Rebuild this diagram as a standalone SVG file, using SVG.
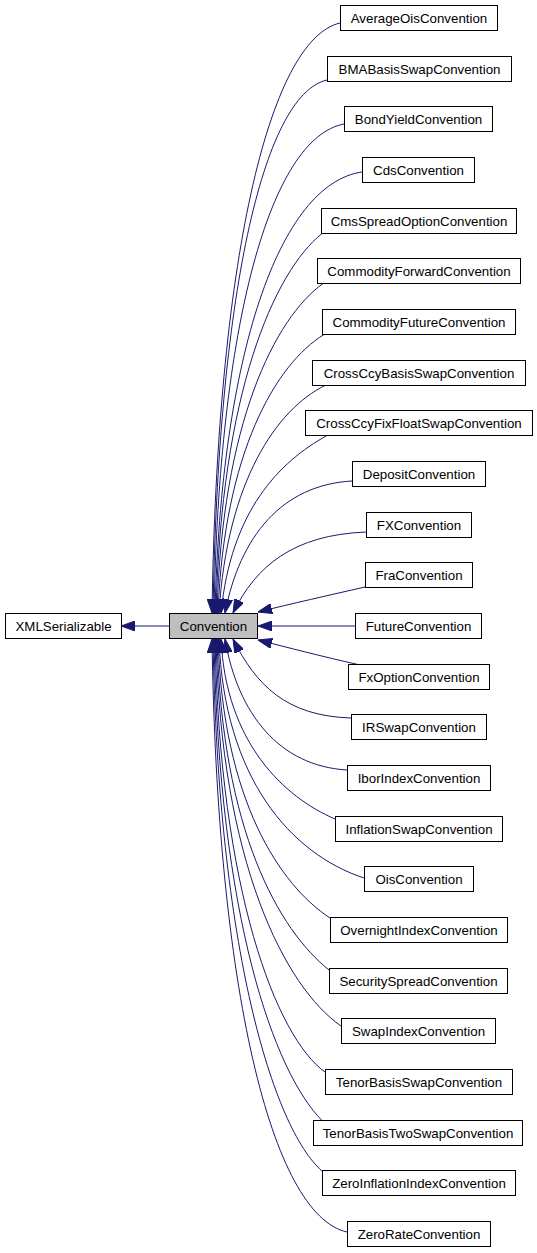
<svg xmlns="http://www.w3.org/2000/svg" width="537" height="1253" viewBox="0 0 537 1253">
<style>
.node rect{fill:#ffffff;stroke:#000000;stroke-width:1}
.node.hl rect{fill:#bfbfbf}
.node text{font-family:"Liberation Sans",Arial,Helvetica,sans-serif;font-size:13.3px;text-anchor:middle;fill:#000000}
.edges path{fill:none;stroke:#191970;stroke-width:1;marker-end:url(#arr)}
</style>
<defs>
<marker id="arr" viewBox="0 0 14 10" markerWidth="14" markerHeight="10" refX="14" refY="5" markerUnits="userSpaceOnUse" orient="auto">
<path d="M0,0 L14,5 L0,10 Z" fill="#191970" stroke="#191970" stroke-width="1"/>
</marker>
</defs>
<rect width="537" height="1253" fill="#ffffff"/>
<g class="edges">
<path d="M169,626 L121,626"/>
<path d="M340,23 C268,40 217,265 212,613"/>
<path d="M327,80 C262,95 218,300 213,613"/>
<path d="M344,124 C270,138 219,325 214,613"/>
<path d="M362,172 C279,184 221,355 215,613"/>
<path d="M322,233.5 C274,272 221,393 216,613"/>
<path d="M323,283.5 C275,318 222,423 217,613"/>
<path d="M324,334.5 C276,364 224,452 218,613"/>
<path d="M325,385.5 C277,409 227,481 219,613"/>
<path d="M327,435.5 C279,462 231,511 221,613"/>
<path d="M352,481 C282,485 240,536 225,613"/>
<path d="M366,532 C293,535 256,566 233,613"/>
<path d="M365,587 C330,595 290,604 258,612"/>
<path d="M355,626 L258,626"/>
<path d="M358,664.5 C320,656 290,648 258,640"/>
<path d="M351,718 C286,716 256,685 233,639"/>
<path d="M347,770 C280,766 238,715 225,639"/>
<path d="M335,819 C284,797 226,743 221,639"/>
<path d="M364,878 C291,854 224,778 219,639"/>
<path d="M330,918 C280,885 223,801 218,639"/>
<path d="M329,970 C279,930 222,831 217,639"/>
<path d="M341,1026 C285,987 221,863 216,639"/>
<path d="M325,1072 C276,1037 220,890 215,639"/>
<path d="M322,1120.5 C274,1072 219,918 214,639"/>
<path d="M322,1171 C273,1128 218,948 213,639"/>
<path d="M347,1232 C271,1215 217,987 212,639"/>
</g>
<g id="XMLSerializable" class="node"><rect x="5.5" y="613.5" width="116" height="25"/><text x="63.5" y="630.5">XMLSerializable</text></g>
<g id="Convention" class="node hl"><rect x="169.5" y="613.5" width="88" height="25"/><text x="213.5" y="630.5">Convention</text></g>
<g id="AverageOisConvention" class="node"><rect x="340.5" y="5.5" width="157" height="25"/><text x="419" y="22.5">AverageOisConvention</text></g>
<g id="BMABasisSwapConvention" class="node"><rect x="327.5" y="56.5" width="184" height="25"/><text x="419.5" y="73.5">BMABasisSwapConvention</text></g>
<g id="BondYieldConvention" class="node"><rect x="344.5" y="106.5" width="148" height="25"/><text x="418.5" y="123.5">BondYieldConvention</text></g>
<g id="CdsConvention" class="node"><rect x="362.5" y="157.5" width="112" height="25"/><text x="418.5" y="174.5">CdsConvention</text></g>
<g id="CmsSpreadOptionConvention" class="node"><rect x="321.5" y="208.5" width="195" height="25"/><text x="419" y="225.5">CmsSpreadOptionConvention</text></g>
<g id="CommodityForwardConvention" class="node"><rect x="317.5" y="258.5" width="203" height="25"/><text x="419" y="275.5">CommodityForwardConvention</text></g>
<g id="CommodityFutureConvention" class="node"><rect x="322.5" y="309.5" width="193" height="25"/><text x="419" y="326.5">CommodityFutureConvention</text></g>
<g id="CrossCcyBasisSwapConvention" class="node"><rect x="312.5" y="360.5" width="213" height="25"/><text x="419" y="377.5">CrossCcyBasisSwapConvention</text></g>
<g id="CrossCcyFixFloatSwapConvention" class="node"><rect x="305.5" y="410.5" width="227" height="25"/><text x="419" y="427.5">CrossCcyFixFloatSwapConvention</text></g>
<g id="DepositConvention" class="node"><rect x="352.5" y="461.5" width="133" height="25"/><text x="419" y="478.5">DepositConvention</text></g>
<g id="FXConvention" class="node"><rect x="366.5" y="512.5" width="105" height="25"/><text x="419" y="529.5">FXConvention</text></g>
<g id="FraConvention" class="node"><rect x="365.5" y="562.5" width="107" height="25"/><text x="419" y="579.5">FraConvention</text></g>
<g id="FutureConvention" class="node"><rect x="355.5" y="613.5" width="126" height="25"/><text x="418.5" y="630.5">FutureConvention</text></g>
<g id="FxOptionConvention" class="node"><rect x="348.5" y="664.5" width="141" height="25"/><text x="419" y="681.5">FxOptionConvention</text></g>
<g id="IRSwapConvention" class="node"><rect x="351.5" y="714.5" width="135" height="25"/><text x="419" y="731.5">IRSwapConvention</text></g>
<g id="IborIndexConvention" class="node"><rect x="347.5" y="765.5" width="143" height="25"/><text x="419" y="782.5">IborIndexConvention</text></g>
<g id="InflationSwapConvention" class="node"><rect x="335.5" y="816.5" width="167" height="25"/><text x="419" y="833.5">InflationSwapConvention</text></g>
<g id="OisConvention" class="node"><rect x="364.5" y="866.5" width="109" height="25"/><text x="419" y="883.5">OisConvention</text></g>
<g id="OvernightIndexConvention" class="node"><rect x="330.5" y="917.5" width="177" height="25"/><text x="419" y="934.5">OvernightIndexConvention</text></g>
<g id="SecuritySpreadConvention" class="node"><rect x="329.5" y="968.5" width="178" height="25"/><text x="418.5" y="985.5">SecuritySpreadConvention</text></g>
<g id="SwapIndexConvention" class="node"><rect x="341.5" y="1018.5" width="154" height="25"/><text x="418.5" y="1035.5">SwapIndexConvention</text></g>
<g id="TenorBasisSwapConvention" class="node"><rect x="325.5" y="1069.5" width="187" height="25"/><text x="419" y="1086.5">TenorBasisSwapConvention</text></g>
<g id="TenorBasisTwoSwapConvention" class="node"><rect x="313.5" y="1120.5" width="209" height="25"/><text x="418" y="1137.5">TenorBasisTwoSwapConvention</text></g>
<g id="ZeroInflationIndexConvention" class="node"><rect x="322.5" y="1170.5" width="193" height="25"/><text x="419" y="1187.5">ZeroInflationIndexConvention</text></g>
<g id="ZeroRateConvention" class="node"><rect x="347.5" y="1221.5" width="143" height="25"/><text x="419" y="1238.5">ZeroRateConvention</text></g>
</svg>
